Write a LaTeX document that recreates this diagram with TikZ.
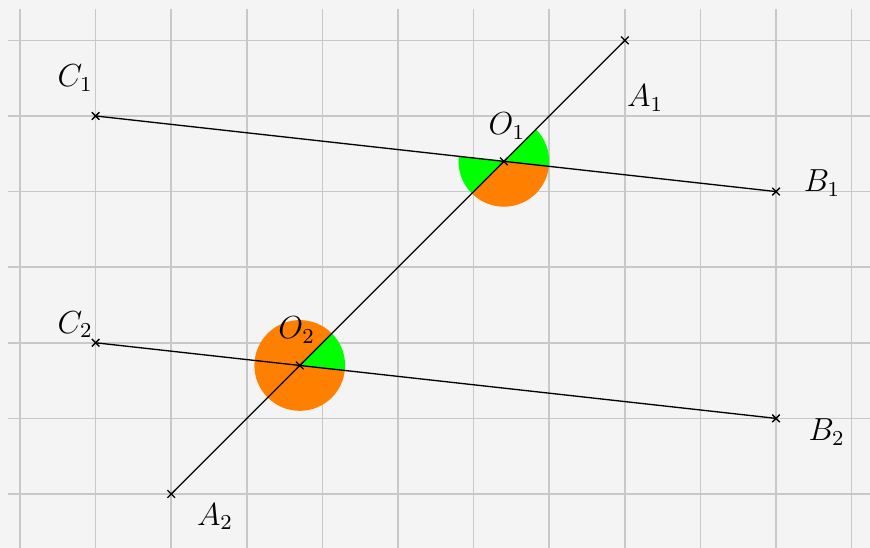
\documentclass[tikz,border=0pt]{standalone}
\usetikzlibrary{calc}
\begin{document}
\begin{tikzpicture}[x=1cm,y=1cm,
  crossmark/.style={line width=0.5pt},
  lbl/.style={font=\large,inner sep=0pt},
  seg/.style={line width=0.5pt}]
\definecolor{bgc}{HTML}{F4F4F4}
\definecolor{gridc}{HTML}{C8C8C8}
\definecolor{grn}{HTML}{00FF00}
\definecolor{org}{HTML}{FF8000}
\useasboundingbox (-0.265,-0.714) rectangle (11.243,6.534);
\fill[bgc] (-0.265,-0.714) rectangle (11.243,6.534);
\draw[gridc,line width=0.6pt] (-0.16,-0.714) grid (11.243,6.41);
% points
\coordinate (C1) at (1,5);
\coordinate (B1) at (10,4);
\coordinate (A1) at (8,6);
\coordinate (A2) at (2,0);
\coordinate (C2) at (1,2);
\coordinate (B2) at (10,1);
\coordinate (O1) at (6.4,4.4);
\coordinate (O2) at (3.7,1.7);
% sectors
\def\r{0.6}
\fill[grn] (O1) -- ++(-6.34:\r) arc[start angle=-6.34,end angle=45,radius=\r] -- cycle;
\fill[grn] (O1) -- ++(173.66:\r) arc[start angle=173.66,end angle=225,radius=\r] -- cycle;
\fill[org] (O1) -- ++(225:\r) arc[start angle=225,end angle=353.66,radius=\r] -- cycle;
\fill[grn] (O2) -- ++(-6.34:\r) arc[start angle=-6.34,end angle=45,radius=\r] -- cycle;
\fill[org] (O2) -- ++(45:\r) arc[start angle=45,end angle=353.66,radius=\r] -- cycle;
% lines
\draw[seg] (C1) -- (B1);
\draw[seg] (C2) -- (B2);
\draw[seg] (A2) -- (A1);
% cross marks
\foreach \p in {C1,B1,A1,A2,C2,B2,O1,O2}{
  \draw[crossmark] ($(\p)+(-0.05,-0.05)$) -- ($(\p)+(0.05,0.05)$);
  \draw[crossmark] ($(\p)+(-0.05,0.05)$) -- ($(\p)+(0.05,-0.05)$);
}
% labels
\node[lbl] (lC1) at (0.73,5.5) {$C_1$};
\node[lbl] (lA1) at (8.27,5.24) {$A_1$};
\node[lbl] (lB1) at (10.61,4.11) {$B_1$};
\node[lbl] (lO1) at (6.44,4.87) {$O_1$};
\node[lbl] (lC2) at (0.73,2.24) {$C_2$};
\node[lbl] (lO2) at (3.66,2.17) {$O_2$};
\node[lbl] (lB2) at (10.67,0.82) {$B_2$};
\node[lbl] (lA2) at (2.58,-0.30) {$A_2$};
\end{tikzpicture}
\end{document}
